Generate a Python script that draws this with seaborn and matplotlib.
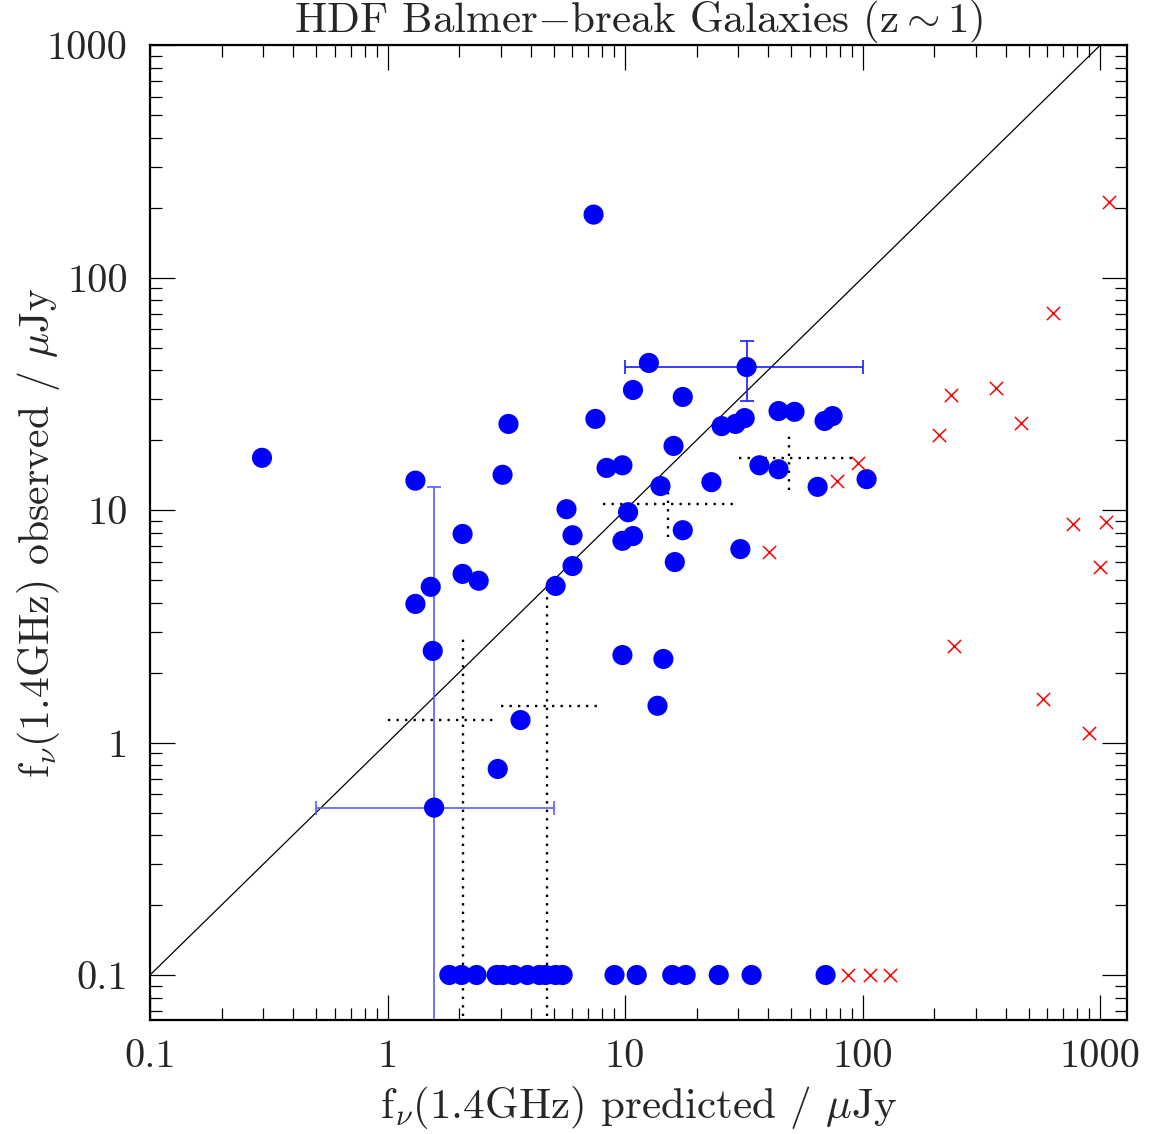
import numpy as np
import pandas as pd
import matplotlib
matplotlib.use("Agg")
import matplotlib.pyplot as plt
import seaborn as sns
from matplotlib import ticker

# detected galaxies (blue dots)
pred_det = [0.296, 1.31, 1.31, 1.52, 1.55, 2.07, 2.07, 2.42, 3.05, 3.23, 2.91, 3.63,
            5.10, 5.67, 6.01, 6.01, 7.37, 7.5, 8.36, 9.75, 9.75, 9.75, 10.3, 10.8,
            10.8, 12.6, 13.7, 14.1, 14.5, 16.0, 16.2, 17.5, 17.5, 23.1, 25.5, 29.2,
            30.6, 31.9, 44.3, 51.7, 69.2, 74.8, 36.8, 44.3, 64.7, 104]
obs_det = [16.8, 13.4, 3.95, 4.68, 2.48, 7.9, 5.32, 4.97, 14.2, 23.5, 0.77, 1.25,
           4.72, 10.1, 7.8, 5.75, 187, 24.7, 15.2, 15.6, 7.38, 2.38, 9.8, 32.9,
           7.74, 43.0, 1.44, 12.7, 2.29, 18.9, 5.98, 30.7, 8.2, 13.2, 23.0, 23.5,
           6.8, 24.9, 26.7, 26.5, 24.2, 25.4, 15.6, 15.0, 12.6, 13.6]

# non-detections plotted at 0.1 uJy
pred_lim = [1.82, 2.05, 2.37, 2.88, 3.05, 3.40, 3.88, 4.36, 4.63, 5.10, 5.46,
            9.03, 11.2, 15.8, 18.0, 24.8, 34.1, 69.9]
obs_lim = [0.1] * len(pred_lim)

# red crosses
pred_red = [1096, 631, 235, 366, 463, 209, 95.3, 77.8, 773, 1055, 1000, 40.2,
            242, 578, 895, 86.5, 107, 131]
obs_red = [211, 70.5, 31.3, 33.5, 23.7, 21.0, 16.0, 13.4, 8.74, 8.9, 5.7, 6.6,
           2.61, 1.54, 1.10, 0.1, 0.1, 0.1]

# points with error bars: x, y, x_lo, x_hi, y_lo, y_hi
err_x = [1.57, 32.5]
err_y = [0.525, 41.3]
err_xlo = [0.5, 10.0]
err_xhi = [5.0, 100.0]
err_ylo = [0.001, 29.4]
err_yhi = [12.6, 53.3]

# binned means (dotted crosses)
bin_x = [2.07, 4.67, 15.1, 48.8]
bin_y = [1.25, 1.43, 10.6, 16.8]
bin_xlo = [1.0, 3.0, 8.04, 30.3]
bin_xhi = [2.93, 8.04, 30.3, 89.9]
bin_ylo = [0.001, 0.001, 7.67, 12.2]
bin_yhi = [2.94, 4.63, 13.4, 21.0]

tick_vals = [0.1, 1, 10, 100, 1000]
tick_labels = ["0.1", "1", "10", "100", "1000"]

sns.set_style("ticks")
plt.rcParams["font.family"] = ["cmr10", "DejaVu Serif"]
plt.rcParams["mathtext.fontset"] = "cm"
plt.rcParams["axes.formatter.use_mathtext"] = True

fig = plt.figure(figsize=(11.56, 11.34), dpi=100)
ax = fig.add_axes([0.1298, 0.1005, 0.8452, 0.8595])
ax.set_xscale("log")
ax.set_yscale("log")

ax.plot([0.05, 2000], [0.05, 2000], color="black", lw=0.9)

for i in range(len(bin_x)):
    ax.plot([bin_xlo[i], bin_xhi[i]], [bin_y[i], bin_y[i]], color="black",
            lw=1.7, linestyle=(0, (1, 2.6)))
    ax.plot([bin_x[i], bin_x[i]], [bin_ylo[i], bin_yhi[i]], color="black",
            lw=1.7, linestyle=(0, (1, 2.6)))

ex = np.array(err_x)
ey = np.array(err_y)
xerr = np.array([ex - np.array(err_xlo), np.array(err_xhi) - ex])
yerr = np.array([ey - np.array(err_ylo), np.array(err_yhi) - ey])
ax.errorbar(ex[:1], ey[:1], xerr=xerr[:, :1], yerr=yerr[:, :1], fmt="none",
            ecolor="#5a5aff", elinewidth=1.2, capsize=4.7, capthick=1.2)
ax.errorbar(ex[1:], ey[1:], xerr=xerr[:, 1:], yerr=yerr[:, 1:], fmt="none",
            ecolor="#1a1aff", elinewidth=1.2, capsize=4.7, capthick=1.2)

det = pd.DataFrame({"pred": pred_det + err_x + pred_lim,
                    "obs": obs_det + err_y + obs_lim})
sns.scatterplot(data=det, x="pred", y="obs", color="blue", s=210,
                edgecolor="none", ax=ax, zorder=5)
red = pd.DataFrame({"pred": pred_red, "obs": obs_red})
sns.scatterplot(data=red, x="pred", y="obs", color="red", marker="x", s=90,
                linewidth=1.1, ax=ax, zorder=5)

ax.set_xlim(0.1, 1300)
ax.set_ylim(0.064, 1000)

ax.xaxis.set_major_locator(ticker.FixedLocator(tick_vals))
ax.xaxis.set_major_formatter(ticker.FixedFormatter(tick_labels))
ax.yaxis.set_major_locator(ticker.FixedLocator(tick_vals))
ax.yaxis.set_major_formatter(ticker.FixedFormatter(tick_labels))
ax.xaxis.set_minor_locator(ticker.LogLocator(base=10, subs=np.arange(2, 10)))
ax.yaxis.set_minor_locator(ticker.LogLocator(base=10, subs=np.arange(2, 10)))
ax.xaxis.set_minor_formatter(ticker.NullFormatter())
ax.yaxis.set_minor_formatter(ticker.NullFormatter())

ax.tick_params(which="both", direction="in", top=True, right=True,
               color="black")
ax.tick_params(which="major", length=18, width=0.9, labelsize=29)
ax.tick_params(which="minor", length=8.6, width=0.9)
ax.tick_params(axis="x", which="major", pad=14)
ax.tick_params(axis="y", which="major", pad=16)
for sp in ax.spines.values():
    sp.set_linewidth(1.6)
    sp.set_color("black")

ax.set_xlabel(r"f$_\nu$(1.4GHz) predicted / $\mu$Jy", fontsize=31, labelpad=6)
ax.set_ylabel(r"f$_\nu$(1.4GHz) observed / $\mu$Jy", fontsize=30)
ax.yaxis.set_label_coords(-0.09, 0.5)
ax.set_title(r"HDF Balmer$-$break Galaxies (z$\sim$1)", fontsize=31, pad=4)

fig.savefig("out.png", dpi=100)
